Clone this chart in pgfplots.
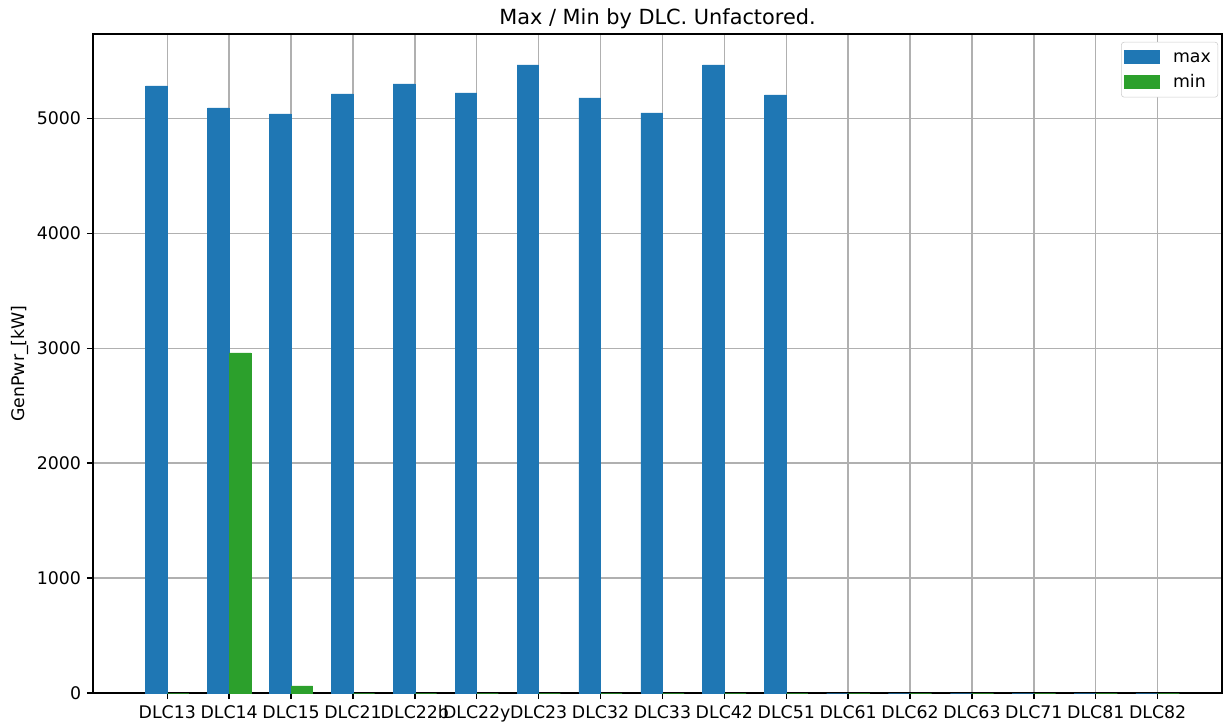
\documentclass[border=0pt]{standalone}
\usepackage{pgfplots}
\pgfplotsset{compat=1.18}
\usepackage{fontspec}
\setmainfont{DejaVu Sans}
\definecolor{mplblue}{HTML}{1F77B4}
\definecolor{mplgreen}{HTML}{2CA02C}
\definecolor{gridgray}{HTML}{B0B0B0}
\begin{document}
\begin{tikzpicture}
\path[use as bounding box] (-66.96pt,-23.04pt) rectangle (813.6pt,498.96pt);
\begin{axis}[
  at={(0pt,0pt)}, anchor=south west,
  scale only axis, width=812.9pt, height=474.5pt,
  xmin=-1.2, xmax=17.04, ymin=0, ymax=5735,
  xtick={0,...,16},
  xticklabels={DLC13,DLC14,DLC15,DLC21,DLC22b,DLC22y,DLC23,DLC32,DLC33,DLC42,DLC51,DLC61,DLC62,DLC63,DLC71,DLC81,DLC82},
  ytick={0,1000,2000,3000,4000,5000},
  /pgf/number format/assume math mode=true,
  /pgf/number format/1000 sep={},
  grid=major, grid style={color=gridgray, line width=1pt},
  tick align=outside, major tick length=4.4pt,
  tick style={black, line width=1pt},
  axis line style={black, line width=1pt},
  xtick pos=bottom, ytick pos=left,
  ticklabel style={font=\fontsize{12.5}{15}\selectfont},
  xticklabel style={inner sep=0pt, text height=9.2pt, text depth=2.6pt, yshift=-4.5pt, anchor=north},
  yticklabel style={inner sep=0pt, xshift=-4pt, anchor=east},
  ylabel={GenPwr\_[kW]},
  ylabel style={font=\fontsize{12.5}{15}\selectfont, at={(axis description cs:-0.0647,0.5)}, anchor=center},
  legend style={at={(axis description cs:0.9965,0.988)}, anchor=north east, draw=black!20, rounded corners=2pt, font=\fontsize{12.5}{15}\selectfont, row sep=0pt, inner xsep=2pt, inner ysep=1.8pt,
    nodes={inner sep=3pt, text height=9.5pt, text depth=2.5pt}},
  legend cell align=left,
  legend image code/.code={\fill[#1, sharp corners] (0pt,-4.7pt) rectangle (25pt,4.7pt); \path[draw=none, fill=none] (0pt,0pt) -- (32pt,0pt);},
  clip=false,
]
\addplot[ybar, bar width=0.35, bar shift=-0.175, fill=mplblue, draw=mplblue, line width=0.4pt] coordinates {
(0,5283) (1,5091) (2,5039) (3,5213) (4,5300) (5,5222) (6,5466) (7,5178) (8,5048) (9,5466) (10,5204)
(11,0) (12,0) (13,0) (14,0) (15,0) (16,0)};
\addlegendentry{max}
\addplot[ybar, bar width=0.35, bar shift=0.175, fill=mplgreen, draw=mplgreen, line width=0.4pt] coordinates {
(0,0) (1,2959) (2,61) (3,0) (4,0) (5,0) (6,0) (7,0) (8,0) (9,0) (10,0)
(11,0) (12,0) (13,0) (14,0) (15,0) (16,0)};
\addlegendentry{min}
\node[font=\fontsize{15}{18}\selectfont, anchor=base] at (rel axis cs:0.5,1) [yshift=7pt] {Max / Min by DLC. Unfactored.};
\end{axis}
\end{tikzpicture}
\end{document}
